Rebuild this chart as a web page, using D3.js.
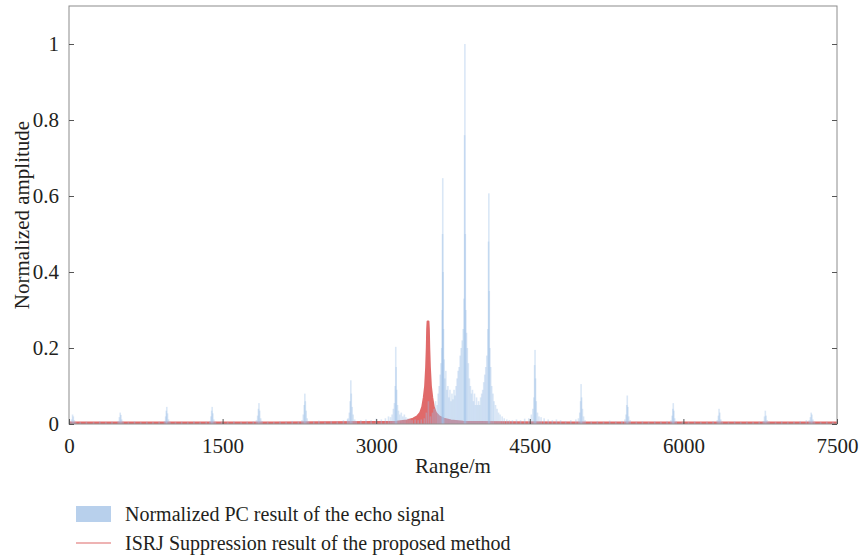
<!DOCTYPE html>
<html>
<head>
<meta charset="utf-8">
<script src="https://cdn.jsdelivr.net/npm/d3@7/dist/d3.min.js"></script>
<style>
  body { margin: 0; background: #fff; }
  text { font-family: "Liberation Serif", "DejaVu Serif", serif; fill: #231f20; }
</style>
</head>
<body>
<svg id="chart" width="862" height="559"></svg>
<script>
// tick labels
var xTicks = [0, 1500, 3000, 4500, 6000, 7500];
var yTicks = [0, 0.2, 0.4, 0.6, 0.8, 1];

// blue series: normalized PC result of the echo signal, [range m, amplitude]
var pcEcho = [
  [10,0.006],[25,0.012],[35,0.025],[42,0.02],[52,0.01],[65,0.005],
  [110,0.005],[170,0.006],[240,0.005],[300,0.007],[360,0.005],[420,0.006],
  [480,0.008],[492,0.018],[500,0.03],[507,0.024],[515,0.012],[528,0.006],
  [580,0.005],[640,0.007],[700,0.005],[760,0.006],[820,0.005],[880,0.006],
  [932,0.008],[944,0.02],[950,0.035],[955,0.045],[962,0.028],[972,0.012],[985,0.006],
  [1040,0.005],[1100,0.006],[1160,0.005],[1220,0.007],[1280,0.005],[1340,0.006],
  [1375,0.008],[1387,0.02],[1393,0.035],[1398,0.045],[1405,0.028],[1415,0.012],[1430,0.006],
  [1490,0.006],[1550,0.005],[1610,0.007],[1680,0.005],[1740,0.006],[1800,0.007],
  [1830,0.01],[1842,0.022],[1850,0.04],[1855,0.055],[1862,0.035],[1872,0.015],[1885,0.008],
  [1940,0.006],[2000,0.005],[2060,0.007],[2120,0.006],[2180,0.008],[2240,0.007],
  [2275,0.01],[2288,0.025],[2297,0.05],[2303,0.08],[2308,0.06],[2316,0.035],[2326,0.015],[2340,0.008],
  [2390,0.007],[2440,0.009],[2500,0.006],[2560,0.008],[2620,0.007],[2680,0.01],[2720,0.012],
  [2725,0.015],[2738,0.03],[2746,0.06],[2752,0.115],[2757,0.08],[2765,0.045],[2775,0.025],[2790,0.012],[2805,0.008],
  [2850,0.01],[2900,0.012],[2950,0.01],[3000,0.014],[3050,0.012],[3090,0.015],[3120,0.02],
  [3140,0.018],[3155,0.025],[3168,0.04],[3178,0.055],[3186,0.1],[3191,0.203],[3195,0.15],[3200,0.09],
  [3208,0.05],[3218,0.035],[3230,0.025],[3245,0.03],[3260,0.02],[3275,0.025],[3290,0.018],[3310,0.015],
  [3330,0.012],[3350,0.01],[3380,0.012],[3410,0.01],[3440,0.012],[3470,0.015],[3490,0.03],[3510,0.06],
  [3530,0.02],[3550,0.03],[3565,0.04],[3580,0.06],[3595,0.05],[3605,0.08],[3615,0.1],[3625,0.13],
  [3633,0.16],[3640,0.2],[3645,0.3],[3648,0.5],[3650,0.647],[3653,0.4],[3657,0.25],[3663,0.17],
  [3670,0.12],[3680,0.14],[3690,0.09],[3700,0.1],[3710,0.07],[3720,0.09],[3730,0.06],[3740,0.08],
  [3750,0.065],[3760,0.09],[3770,0.075],[3780,0.1],[3790,0.12],[3800,0.14],[3810,0.15],[3820,0.18],
  [3830,0.2],[3840,0.22],[3850,0.25],[3858,0.33],[3863,0.76],[3866,1.0],[3870,0.5],[3875,0.3],
  [3882,0.24],[3890,0.2],[3900,0.16],[3910,0.12],[3920,0.1],[3930,0.08],[3940,0.09],[3950,0.06],
  [3960,0.08],[3970,0.05],[3980,0.07],[3990,0.05],[4000,0.06],[4010,0.05],[4020,0.07],[4030,0.08],
  [4040,0.09],[4050,0.11],[4060,0.13],[4070,0.15],[4080,0.18],[4090,0.25],[4097,0.48],[4100,0.607],
  [4104,0.35],[4110,0.2],[4118,0.15],[4128,0.1],[4140,0.08],[4150,0.06],[4165,0.05],[4180,0.04],
  [4195,0.03],[4210,0.025],[4230,0.02],[4250,0.015],[4275,0.012],[4300,0.01],
  [4330,0.01],[4370,0.012],[4410,0.01],[4450,0.014],[4490,0.015],[4515,0.025],[4530,0.04],[4540,0.07],
  [4547,0.155],[4551,0.195],[4556,0.12],[4563,0.06],[4575,0.03],[4590,0.02],[4610,0.018],[4640,0.015],
  [4680,0.012],[4720,0.01],[4760,0.012],[4800,0.01],[4850,0.008],[4900,0.01],[4950,0.012],
  [4975,0.015],[4988,0.03],[4996,0.06],[5001,0.105],[5006,0.07],[5014,0.04],[5025,0.02],[5040,0.01],
  [5100,0.006],[5160,0.008],[5220,0.006],[5280,0.009],[5340,0.007],[5400,0.008],
  [5428,0.012],[5440,0.025],[5447,0.05],[5452,0.075],[5458,0.045],[5466,0.02],[5480,0.01],
  [5540,0.006],[5600,0.007],[5660,0.005],[5720,0.007],[5780,0.006],[5840,0.008],
  [5878,0.01],[5890,0.022],[5897,0.04],[5901,0.055],[5907,0.035],[5915,0.015],[5930,0.008],
  [5990,0.006],[6050,0.005],[6110,0.007],[6170,0.005],[6230,0.006],[6290,0.007],
  [6330,0.01],[6342,0.022],[6348,0.04],[6355,0.03],[6365,0.012],[6380,0.006],
  [6440,0.005],[6500,0.007],[6560,0.005],[6620,0.006],[6680,0.005],[6740,0.006],
  [6780,0.008],[6792,0.02],[6800,0.035],[6807,0.022],[6818,0.01],[6835,0.006],
  [6900,0.005],[6960,0.007],[7020,0.005],[7080,0.006],[7140,0.008],[7200,0.01],
  [7228,0.01],[7240,0.018],[7248,0.03],[7255,0.025],[7265,0.012],[7280,0.006],
  [7340,0.005],[7400,0.006],[7460,0.005]
];

// red series: ISRJ suppression result, [range m, amplitude]
var isrjResult = [
  [0,0.004],[1000,0.004],[2000,0.004],[3000,0.005],[3200,0.006],[3300,0.009],[3360,0.014],
  [3400,0.02],[3430,0.03],[3450,0.045],[3465,0.07],[3478,0.1],[3488,0.15],[3494,0.2],
  [3498,0.25],[3502,0.27],[3510,0.27],[3514,0.25],[3518,0.2],[3524,0.15],[3534,0.1],
  [3547,0.07],[3562,0.045],[3582,0.03],[3615,0.02],[3660,0.014],[3730,0.009],[3850,0.006],
  [4000,0.005],[5000,0.004],[6000,0.004],[7500,0.004]
];

var legendLabels = ["Normalized PC result of the echo signal", "ISRJ Suppression result of the proposed method"];

var svg = d3.select("#chart");
var margin = {left: 69, right: 25, top: 6, bottom: 135};
var W = 862, H = 559;
var fontSize = 21;

var x = d3.scaleLinear().domain([0, 7500]).range([margin.left, W - margin.right]);
var y = d3.scaleLinear().domain([0, 1.1]).range([H - margin.bottom, margin.top]);

var plot = svg.append("g");
plot.append("clipPath").attr("id", "clip").append("rect")
  .attr("x", x(0)).attr("y", y(1.1)).attr("width", x(7500) - x(0)).attr("height", y(0) - y(1.1));

var marks = plot.append("g").attr("clip-path", "url(#clip)");

// red result: dense oscillation reads as a filled spike
var redColor = "#e06a6a";
marks.append("path")
  .datum(isrjResult)
  .attr("fill", redColor)
  .attr("stroke", redColor)
  .attr("stroke-width", 2)
  .attr("stroke-linejoin", "round")
  .attr("d", d3.area().x(function(d){ return x(d[0]); }).y0(y(0)).y1(function(d){ return y(d[1]); }));

// blue bars
marks.selectAll("rect.pc").data(pcEcho).enter().append("rect")
  .attr("class", "pc")
  .attr("x", function(d){ return x(d[0]) - 0.8; })
  .attr("width", 1.6)
  .attr("y", function(d){ return y(d[1]); })
  .attr("height", function(d){ return y(0) - y(d[1]); })
  .attr("fill", "#9fc0e8")
  .attr("fill-opacity", 0.38);

// box
var axisColor = "#8c8c8c";
plot.append("rect")
  .attr("x", x(0)).attr("y", y(1.1))
  .attr("width", x(7500) - x(0)).attr("height", y(0) - y(1.1))
  .attr("fill", "none").attr("stroke", axisColor).attr("stroke-width", 1);

// axes with inward ticks
var xAxis = d3.axisBottom(x).tickValues(xTicks).tickSize(-5).tickPadding(14).tickFormat(d3.format("d"));
var gx = plot.append("g").attr("transform", "translate(0," + y(0) + ")").call(xAxis);
var yAxis = d3.axisLeft(y).tickValues(yTicks).tickSize(-5).tickPadding(10).tickFormat(function(d){ return d === 0 ? "0" : d3.format("")(d); });
var gy = plot.append("g").attr("transform", "translate(" + x(0) + ",0)").call(yAxis);
var yAxisR = d3.axisRight(y).tickValues(yTicks).tickSize(-5).tickFormat("");
var gyr = plot.append("g").attr("transform", "translate(" + x(7500) + ",0)").call(yAxisR);

[gx, gy, gyr].forEach(function(g){
  g.select(".domain").remove();
  g.selectAll(".tick line").attr("stroke", "#555");
  g.selectAll(".tick text").attr("font-size", fontSize).attr("font-family", "Liberation Serif, serif").attr("fill", "#231f20");
});

// axis titles
svg.append("text")
  .attr("x", (x(0) + x(7500)) / 2).attr("y", 473)
  .attr("text-anchor", "middle").attr("font-size", fontSize)
  .text("Range/m");
svg.append("text")
  .attr("transform", "translate(29," + ((y(0) + y(1.1)) / 2) + ") rotate(-90)")
  .attr("text-anchor", "middle").attr("font-size", fontSize)
  .text("Normalized amplitude");

// legend
var legend = svg.append("g");
legend.append("rect").attr("x", 76).attr("y", 506).attr("width", 35).attr("height", 16).attr("fill", "#b8d0ec");
legend.append("text").attr("x", 125).attr("y", 521).attr("font-size", 20).text(legendLabels[0]);
legend.append("line").attr("x1", 76).attr("x2", 111).attr("y1", 543).attr("y2", 543)
  .attr("stroke", "#e89a9a").attr("stroke-width", 1.5);
legend.append("text").attr("x", 125).attr("y", 550).attr("font-size", 20).text(legendLabels[1]);
</script>
</body>
</html>
